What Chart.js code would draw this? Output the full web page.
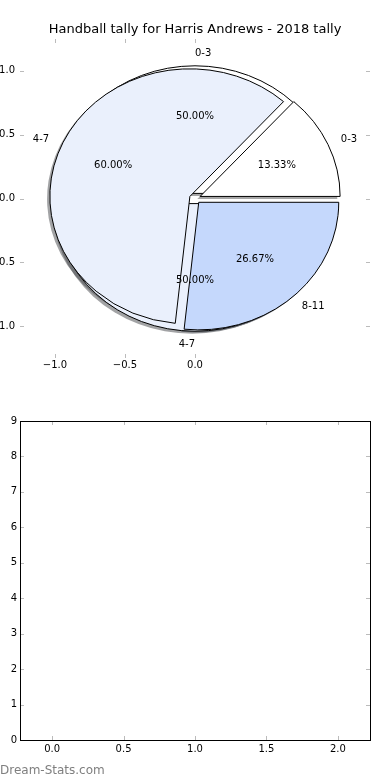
<!DOCTYPE html>
<html>
<head>
<meta charset="utf-8">
<script src="https://cdn.jsdelivr.net/npm/chart.js@4.4.0/dist/chart.umd.min.js"></script>
<style>
  html, body { margin: 0; padding: 0; background: #fff; }
  body { width: 390px; height: 780px; position: relative; overflow: hidden; }
  canvas { position: absolute; left: 0; }
  #pieCanvas { top: 0; }
  #emptyCanvas { top: 390px; }
  #watermark { position: absolute; left: 0; top: 763px; font: 12px "DejaVu Sans"; color: #7f7f7f; }
</style>
</head>
<body>
<canvas id="pieCanvas" width="390" height="390"></canvas>
<canvas id="emptyCanvas" width="390" height="390"></canvas>
<div id="watermark">Dream-Stats.com</div>
<script>
// Données
const titleText = 'Handball tally for Harris Andrews - 2018 tally';
const outerLabels = ['0-3', '4-7'];
const outerValues = [1, 1];
const innerLabels = ['0-3', '4-7', '8-11'];
const innerValues = [2, 9, 4];
const pieXTicks = [-1.0, -0.5, 0.0];
const pieYTicks = [-1.0, -0.5, 0.0, 0.5, 1.0];
const emptyXTicks = [0.0, 0.5, 1.0, 1.5, 2.0];
const emptyYTicks = [0, 1, 2, 3, 4, 5, 6, 7, 8, 9];

// Style
const outerColors = ['#ffffff', '#eaf0fc'];
const innerColors = ['#ffffff', '#eaf0fc', '#c5d8fc'];
const EXPLODE = 0.04;
const SHADOW_OFFSET = -0.02;
const LABEL_DIST = 1.1;
const PCT_DIST = 0.6;
const TICK_LEN = 4;
const TICK_COLOR = '#bbbbbb';
const FONT = '"DejaVu Sans", sans-serif';

Chart.defaults.font.family = FONT;
Chart.defaults.font.size = 10;
Chart.defaults.color = '#000';

const fmt1 = v => (v < 0 ? '\u2212' : '') + Math.abs(v).toFixed(1);

function wedgesOf(values) {
    const total = values.reduce((a, b) => a + b, 0);
    let cum = 0;
    return values.map(v => {
        const t1 = cum / total * 2 * Math.PI;
        cum += v;
        const t2 = cum / total * 2 * Math.PI;
        const tm = (t1 + t2) / 2;
        return { t1, t2, tm, dx: EXPLODE * Math.cos(tm), dy: EXPLODE * Math.sin(tm), frac: v / total };
    });
}

function shade(hex) {
    const n = parseInt(hex.slice(1), 16);
    const r = Math.round(((n >> 16) & 255) * 0.3);
    const g = Math.round(((n >> 8) & 255) * 0.3);
    const b = Math.round((n & 255) * 0.3);
    return `rgba(${r},${g},${b},0.5)`;
}

// Les deux camemberts superposés, dessinés dans les échelles x/y
const piePlugin = {
    id: 'pies',
    afterDatasetsDraw(chart) {
        const { ctx, scales: { x, y } } = chart;
        const rx = x.getPixelForValue(1) - x.getPixelForValue(0);
        const ry = y.getPixelForValue(0) - y.getPixelForValue(1);
        const layers = [
            { labels: outerLabels, wedges: wedgesOf(outerValues), colors: outerColors },
            { labels: innerLabels, wedges: wedgesOf(innerValues), colors: innerColors }
        ];
        const path = (cx, cy, w) => {
            const px = x.getPixelForValue(cx), py = y.getPixelForValue(cy);
            ctx.beginPath();
            ctx.moveTo(px, py);
            ctx.ellipse(px, py, rx, ry, 0, -w.t1, -w.t2, true);
            ctx.closePath();
        };
        ctx.save();
        // ombres
        layers.forEach(l => l.wedges.forEach((w, i) => {
            path(w.dx + SHADOW_OFFSET, w.dy + SHADOW_OFFSET, w);
            ctx.fillStyle = shade(l.colors[i]);
            ctx.fill();
        }));
        // parts
        ctx.lineWidth = 1;
        ctx.strokeStyle = '#000';
        layers.forEach(l => l.wedges.forEach((w, i) => {
            path(w.dx, w.dy, w);
            ctx.fillStyle = l.colors[i];
            ctx.fill();
            ctx.stroke();
        }));
        // textes
        ctx.fillStyle = '#000';
        ctx.font = '10px ' + FONT;
        ctx.textBaseline = 'middle';
        layers.forEach(l => l.wedges.forEach((w, i) => {
            const xt = w.dx + LABEL_DIST * Math.cos(w.tm);
            const yt = w.dy + LABEL_DIST * Math.sin(w.tm);
            ctx.textAlign = xt > 0 ? 'left' : 'right';
            ctx.fillText(l.labels[i], x.getPixelForValue(xt), y.getPixelForValue(yt));
            ctx.textAlign = 'center';
            ctx.fillText((w.frac * 100).toFixed(2) + '%',
                x.getPixelForValue(w.dx + PCT_DIST * Math.cos(w.tm)),
                y.getPixelForValue(w.dy + PCT_DIST * Math.sin(w.tm)));
        }));
        ctx.restore();
    }
};

// Graduations vers l'intérieur + cadre éventuel
const ticksPlugin = {
    id: 'innerTicks',
    afterDraw(chart, args, opts) {
        const { ctx, chartArea: a, scales: { x, y } } = chart;
        ctx.save();
        ctx.lineWidth = 1;
        ctx.strokeStyle = TICK_COLOR;
        ctx.beginPath();
        x.ticks.forEach(t => {
            const p = Math.round(x.getPixelForValue(t.value)) + 0.5;
            ctx.moveTo(p, a.bottom); ctx.lineTo(p, a.bottom - TICK_LEN);
            ctx.moveTo(p, a.top); ctx.lineTo(p, a.top + TICK_LEN);
        });
        y.ticks.forEach(t => {
            const p = Math.round(y.getPixelForValue(t.value)) + 0.5;
            ctx.moveTo(a.left, p); ctx.lineTo(a.left + TICK_LEN, p);
            ctx.moveTo(a.right, p); ctx.lineTo(a.right - TICK_LEN, p);
        });
        ctx.stroke();
        if (opts.frame) {
            ctx.strokeStyle = '#000';
            ctx.strokeRect(a.left + 0.5, a.top + 0.5, a.width, a.height);
        }
        ctx.restore();
    }
};

function axis(min, max, values, fmt, size, pad, horizontal) {
    return {
        type: 'linear', min, max,
        afterBuildTicks: s => { s.ticks = values.map(v => ({ value: v })); },
        afterFit: s => { if (horizontal) s.height = size; else s.width = size; },
        grid: { display: false, drawTicks: false },
        border: { display: false },
        ticks: { padding: pad, autoSkip: false, maxRotation: 0, callback: fmt }
    };
}

new Chart(document.getElementById('pieCanvas'), {
    type: 'scatter',
    data: { datasets: [{ data: [] }] },
    options: {
        responsive: false,
        animation: false,
        devicePixelRatio: 1,
        layout: { padding: { top: 0, right: 20, bottom: 0, left: 0 } },
        plugins: {
            legend: { display: false },
            tooltip: { enabled: false },
            title: {
                display: true, text: titleText, fullSize: false,
                font: { size: 13, weight: 'normal' }, color: '#000',
                padding: { top: 22, bottom: 1.4 }
            },
            innerTicks: { frame: false }
        },
        scales: {
            x: axis(-1.25, 1.25, pieXTicks, fmt1, 32, 1, true),
            y: axis(-1.25, 1.25, pieYTicks, fmt1, 20, 5, false)
        }
    },
    plugins: [piePlugin, ticksPlugin]
});

new Chart(document.getElementById('emptyCanvas'), {
    type: 'scatter',
    data: { datasets: [{ data: [] }] },
    options: {
        responsive: false,
        animation: false,
        devicePixelRatio: 1,
        layout: { padding: { top: 31, right: 20, bottom: 0, left: 0 } },
        plugins: {
            legend: { display: false },
            tooltip: { enabled: false },
            innerTicks: { frame: true }
        },
        scales: {
            x: axis(-0.225, 2.225, emptyXTicks, fmt1, 40, 3, true),
            y: axis(0, 9, emptyYTicks, v => String(v), 20, 3, false)
        }
    },
    plugins: [ticksPlugin]
});
</script>
</body>
</html>
